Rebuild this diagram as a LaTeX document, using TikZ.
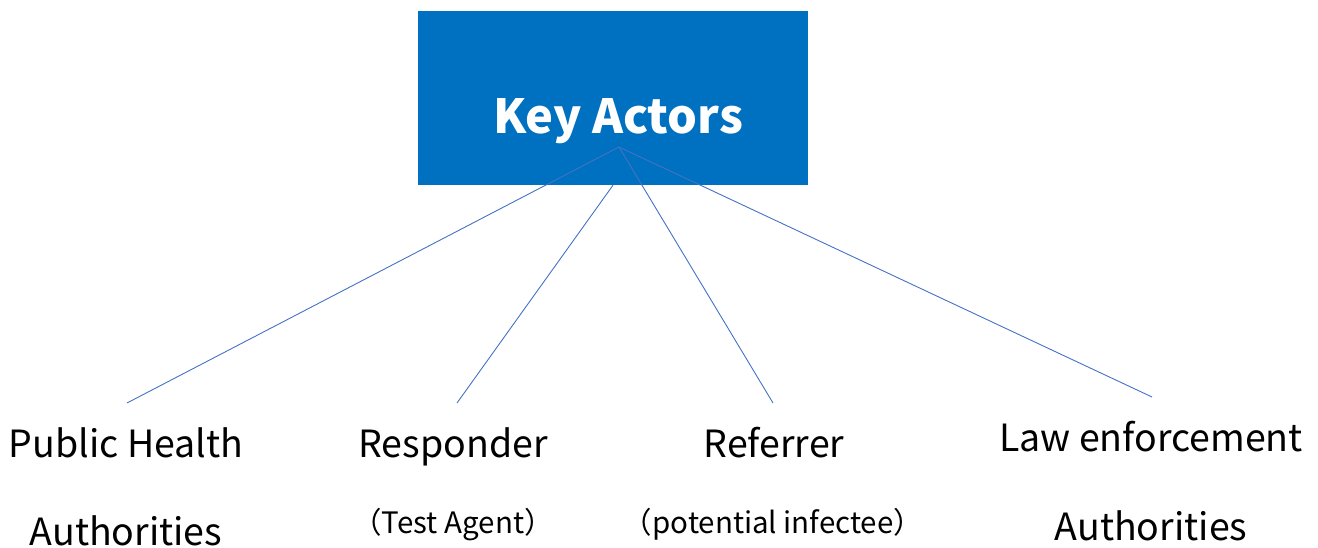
\documentclass[tikz,border=0pt]{standalone}
\usepackage{fontspec}
\setmainfont{Noto Sans CJK JP}
\definecolor{boxblue}{HTML}{0070C0}
\definecolor{lineblue}{HTML}{4472C4}

\begin{document}
\begin{tikzpicture}[x=1pt,y=-1pt,
    actor/.style={anchor=base,inner sep=0pt,font=\fontsize{37.5}{38}\selectfont},
    note/.style={anchor=base,inner sep=0pt,font=\fontsize{29.5}{30}\selectfont},
    link/.style={draw=lineblue,line width=0.9pt}]
  \useasboundingbox (0,0) rectangle (1318,548);

  \node[fill=boxblue,minimum width=390pt,minimum height=174pt,inner sep=0pt] (0) at (613,98) {};
  \node[anchor=base,text=white,font=\fontsize{47}{47}\selectfont\bfseries] (k) at (618,134) {Key Actors};
  \coordinate (top) at (619,147);

  \node[actor] (1) at (126,457) {Public Health};
  \node[actor] (1b) at (126,545) {Authorities};
  \node[actor] (2) at (453,457) {Responder};
  \node[note] (2b) at (453,533) {（Test Agent）};
  \node[actor] (3) at (774,457) {Referrer};
  \node[note] (3b) at (773,533) {（potential infectee）};
  \node[actor] (4) at (1151,451) {Law enforcement};
  \node[actor] (4b) at (1151,540) {Authorities};

  \coordinate (e1) at (127,403);
  \coordinate (e2) at (457,403);
  \coordinate (e3) at (773,403);
  \coordinate (e4) at (1152,397);

  \draw[link] (top)--(e1);
  \draw[link] (0.south)--(e2);
  \draw[link] (top)--(e3);
  \draw[link] (top)--(e4);
\end{tikzpicture}
\end{document}
